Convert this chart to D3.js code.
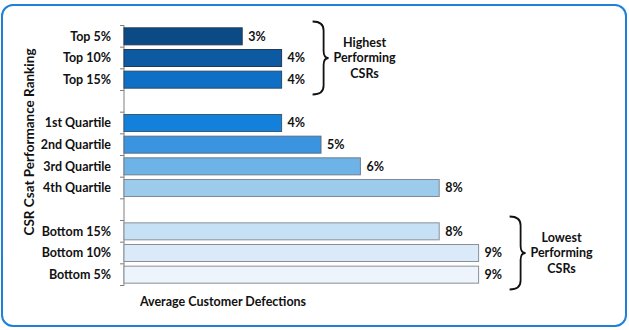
<!DOCTYPE html>
<html>
<head>
<meta charset="utf-8">
<script src="https://cdn.jsdelivr.net/npm/d3@7"></script>
<style>
  body { margin: 0; background: #fff; }
  text { font-family: Lato, "Open Sans", sans-serif; font-weight: bold; fill: #111; }
</style>
</head>
<body>
<div id="chart"></div>
<script>
// rows top to bottom, '' = empty gap row
const rowLabels = ['Top 5%', 'Top 10%', 'Top 15%', '',
  '1st Quartile', '2nd Quartile', '3rd Quartile', '4th Quartile', '',
  'Bottom 15%', 'Bottom 10%', 'Bottom 5%'];
const defections = [3, 4, 4, null, 4, 5, 6, 8, null, 8, 9, 9];
const barColors = ['#0b4a85', '#0d5aa3', '#0f6fc4', null, '#1380dc', '#3b94e0',
  '#6eb3e8', '#9ccbec', null, '#c6e0f5', '#dbeaf8', '#edf4fb'];
const barStrokes = ['#223a55', '#223a55', '#2a4a6a', null, '#3a5a7a', '#5a6f85',
  '#6f7f8f', '#7f8a95', null, '#8a9098', '#8a9098', '#8a9098'];
const groupNotes = [
  { rows: [0, 2], lines: ['Highest', 'Performing', 'CSRs'] },
  { rows: [9, 11], lines: ['Lowest', 'Performing', 'CSRs'] }
];
const yTitle = 'CSR Csat Performance Ranking';
const xTitle = 'Average Customer Defections';

const width = 629, height = 330;
const svg = d3.select('#chart').append('svg')
  .attr('width', width)
  .attr('height', height);

// rounded blue frame
svg.append('rect')
  .attr('x', 2).attr('y', 5)
  .attr('width', 624).attr('height', 321)
  .attr('rx', 11).attr('ry', 11)
  .attr('fill', '#fff')
  .attr('stroke', '#1f80d8')
  .attr('stroke-width', 2);

const x = d3.scaleLinear().domain([0, 10]).range([124, 518]);
const y = d3.scaleBand().domain(d3.range(rowLabels.length)).range([25.5, 285.5]);
const barH = 17;
const off = (y.bandwidth() - barH) / 2;

// axis line + ticks at band edges
const g = svg.append('g');
g.append('line')
  .attr('x1', x(0)).attr('x2', x(0))
  .attr('y1', y.range()[0]).attr('y2', y.range()[1])
  .attr('stroke', '#7f7f7f').attr('stroke-width', 1);
const edges = d3.range(rowLabels.length + 1).map(i => y.range()[0] + i * y.step());
g.selectAll('.tick').data(edges).enter().append('line')
  .attr('x1', x(0) - 4).attr('x2', x(0))
  .attr('y1', d => d).attr('y2', d => d)
  .attr('stroke', '#7f7f7f');

const rows = rowLabels.map((label, i) => ({ i, label, v: defections[i] }));

g.selectAll('.bar').data(rows.filter(d => d.v != null)).enter().append('rect')
  .attr('x', x(0))
  .attr('y', d => y(d.i) + off)
  .attr('width', d => x(d.v) - x(0))
  .attr('height', barH)
  .attr('fill', d => barColors[d.i])
  .attr('stroke', d => barStrokes[d.i])
  .attr('stroke-width', 1);

g.selectAll('.cat').data(rows.filter(d => d.label)).enter().append('text')
  .attr('x', x(0) - 13)
  .attr('y', d => y(d.i) + y.bandwidth() / 2)
  .attr('dy', '0.35em')
  .attr('text-anchor', 'end')
  .style('font-size', '12.5px')
  .text(d => d.label);

g.selectAll('.val').data(rows.filter(d => d.v != null)).enter().append('text')
  .attr('x', d => x(d.v) + 6)
  .attr('y', d => y(d.i) + off + barH / 2)
  .attr('dy', '0.35em')
  .style('font-size', '12.5px')
  .text(d => d.v + '%');

// axis titles
svg.append('text')
  .attr('transform', 'translate(34,142) rotate(-90)')
  .attr('text-anchor', 'middle')
  .style('font-size', '13.5px')
  .text(yTitle);

svg.append('text')
  .attr('x', 223).attr('y', 302)
  .attr('dy', '0.35em')
  .attr('text-anchor', 'middle')
  .style('font-size', '12.5px')
  .text(xTitle);

// curly braces with notes
groupNotes.forEach(n => {
  const top = y(n.rows[0]) - 4;
  const bot = y(n.rows[1]) + y.bandwidth() + 4;
  const mid = (top + bot) / 2;
  const maxV = d3.max(n.rows, r => defections[r]);
  const xm = x(maxV) + 42;
  const x0 = xm - 11, xp = xm + 5;
  const p = d3.path();
  p.moveTo(x0, top);
  p.quadraticCurveTo(xm, top, xm, top + 9);
  p.lineTo(xm, mid - 7);
  p.quadraticCurveTo(xm, mid, xp, mid);
  p.quadraticCurveTo(xm, mid, xm, mid + 7);
  p.lineTo(xm, bot - 9);
  p.quadraticCurveTo(xm, bot, x0, bot);
  svg.append('path')
    .attr('d', p.toString())
    .attr('fill', 'none')
    .attr('stroke', '#111')
    .attr('stroke-width', 1.8);

  svg.append('g').selectAll('text').data(n.lines).enter().append('text')
    .attr('x', xp + 36)
    .attr('y', (d, k) => mid + (k - 1) * 15.5)
    .attr('dy', '0.35em')
    .attr('text-anchor', 'middle')
    .style('font-size', '12.5px')
    .text(d => d);
});
</script>
</body>
</html>
